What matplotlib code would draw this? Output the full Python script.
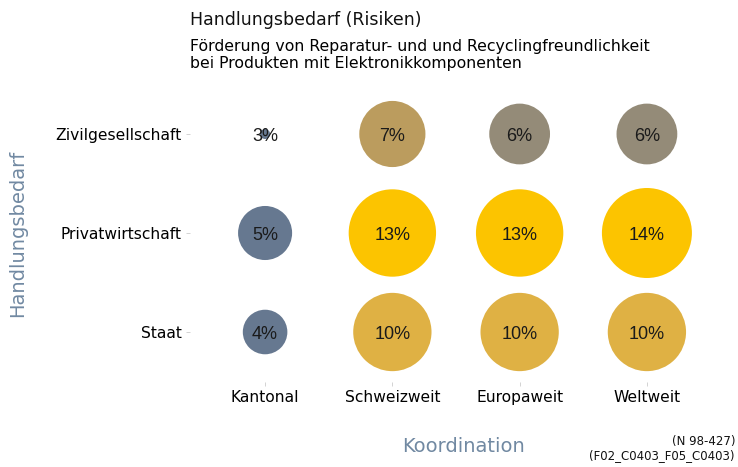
import numpy as np
import matplotlib
matplotlib.use('Agg')
import matplotlib.pyplot as plt
from matplotlib.colors import LinearSegmentedColormap

# data
koordination = ['Kantonal', 'Schweizweit', 'Europaweit', 'Weltweit']
akteure = ['Staat', 'Privatwirtschaft', 'Zivilgesellschaft']
staat = [4, 10, 10, 10]
privatwirtschaft = [5, 13, 13, 14]
zivilgesellschaft = [3, 7, 6, 6]

title = 'Handlungsbedarf (Risiken)'
subtitle = ('Förderung von Reparatur- und und Recyclingfreundlichkeit\n'
            'bei Produkten mit Elektronikkomponenten')
caption = '(N 98-427)\n(F02_C0403_F05_C0403)'

rows = [staat, privatwirtschaft, zivilgesellschaft]
vals = np.array(rows, dtype=float)
vmin, vmax = vals.min(), vals.max()

# colour scale (slate -> yellow)
nodes = [(3, '#667890'), (5, '#667890'), (6, '#958b77'), (7, '#bb9c5e'),
         (10, '#dfb144'), (13, '#fcc400'), (14, '#fcc400')]
cmap = LinearSegmentedColormap.from_list(
    'bedarf', [((v - 3) / 11, c) for v, c in nodes])


def diameter_px(v):
    t = (v - vmin) / (vmax - vmin)
    return 10 + 80 * t ** 0.35


fig = plt.figure(figsize=(7.38, 4.67), dpi=100)
ax = fig.add_axes([190 / 738, 1 - 382 / 467, 532 / 738, 298 / 467])

for yi, row in enumerate(rows):
    for xi, v in enumerate(row):
        d = diameter_px(v) * 0.72
        ax.scatter(xi, yi, s=d ** 2, color=cmap((v - 3) / 11),
                   edgecolors='none', zorder=2)
        ax.annotate(f'{v}%', (xi, yi), xytext=(0, -1.5),
                    textcoords='offset points', ha='center', va='center',
                    fontsize=13, family='Liberation Sans', color='#1a1a1a',
                    zorder=3)

ax.set_xlim(-0.59, 3.59)
ax.set_ylim(-0.505, 2.505)
ax.set_xticks(range(len(koordination)))
ax.set_xticklabels(koordination)
ax.set_yticks(range(len(akteure)))
ax.set_yticklabels(akteure)
ax.tick_params(length=3, width=0.6, color='#cccccc', labelsize=11.2,
               labelcolor='#000000', pad=3)
for s in ax.spines.values():
    s.set_visible(False)

fig.text(463 / 738, 1 - 447 / 467, 'Koordination', fontsize=14,
         color='#7189a2', ha='center', va='center')
fig.text(18 / 738, 1 - 233 / 467, 'Handlungsbedarf', fontsize=14,
         color='#7189a2', ha='center', va='center', rotation=90)

fig.text(190 / 738, 1 - 20 / 467, title, fontsize=12.5, va='center',
         color='#111111')
fig.text(190 / 738, 1 - 55 / 467, subtitle, fontsize=11.3, va='center',
         color='#000000', linespacing=1.1)
fig.text(735 / 738, 1 - 449 / 467, caption, fontsize=8.5, ha='right',
         va='center', color='#111111', linespacing=1.1)

fig.savefig('out.png', dpi=100)
